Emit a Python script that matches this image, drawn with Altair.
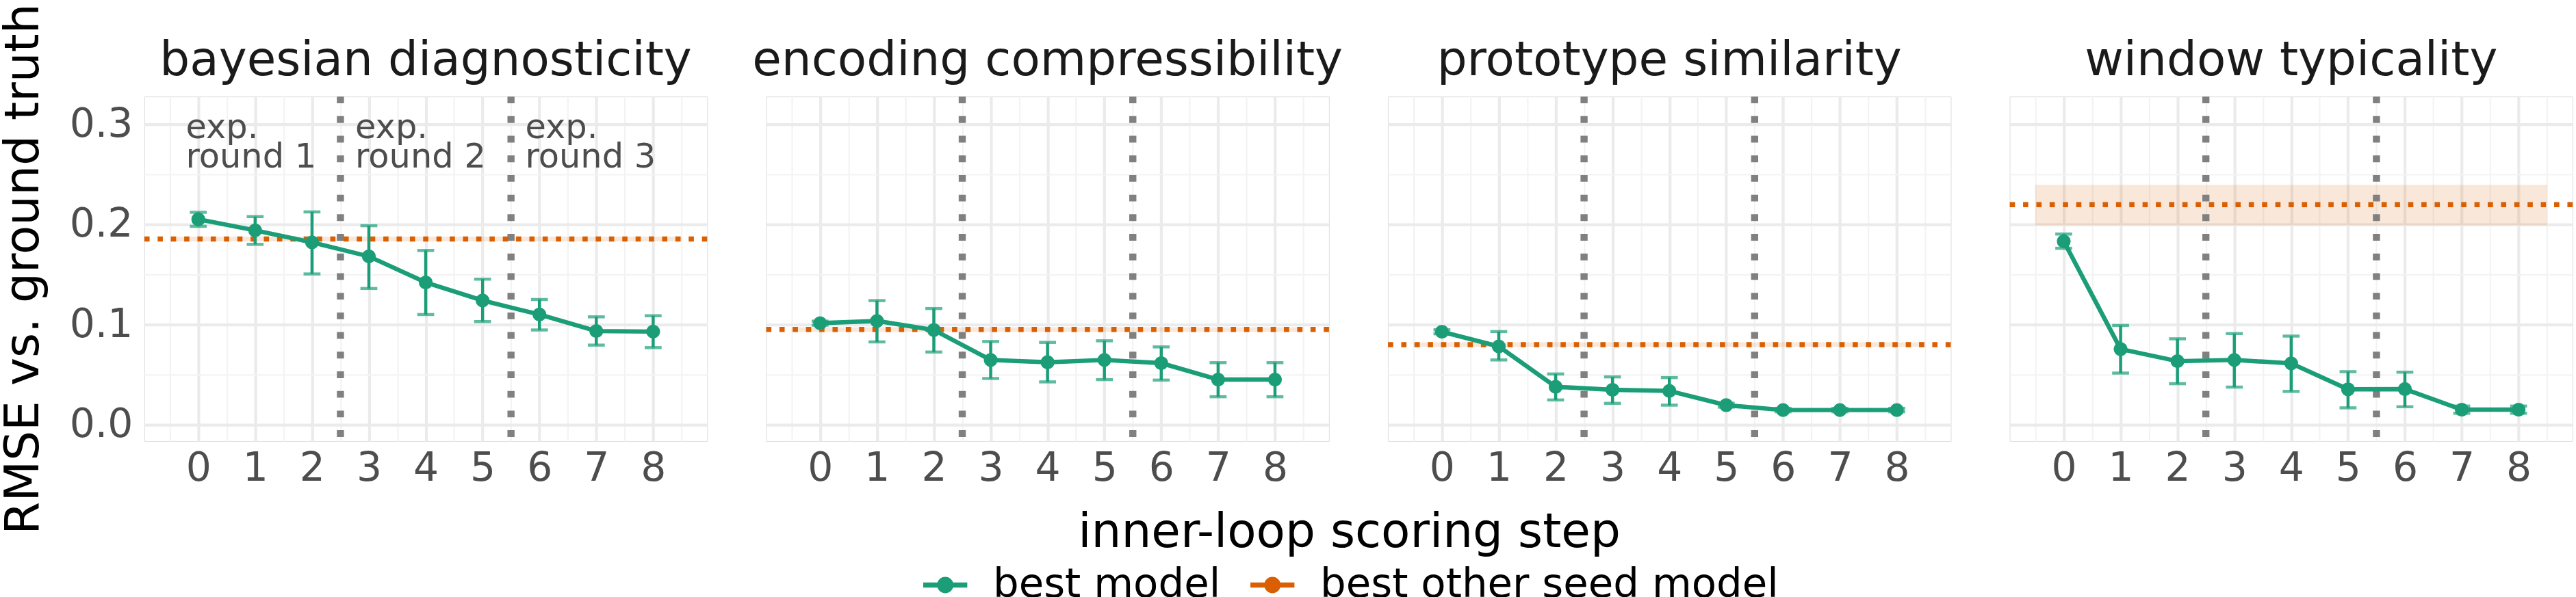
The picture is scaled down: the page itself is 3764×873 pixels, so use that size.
import altair as alt
import pandas as pd

# ---------------- data ----------------
metrics = ["bayesian diagnosticity", "encoding compressibility",
           "prototype similarity", "window typicality"]
steps = [0, 1, 2, 3, 4, 5, 6, 7, 8]

bd_mean = [0.205, 0.194, 0.182, 0.168, 0.142, 0.124, 0.110, 0.0935, 0.093]
bd_lo = [0.198, 0.180, 0.1505, 0.136, 0.110, 0.103, 0.0946, 0.0795, 0.077]
bd_hi = [0.212, 0.2077, 0.2124, 0.1986, 0.1739, 0.1453, 0.125, 0.1077, 0.1088]

ec_mean = [0.1014, 0.1036, 0.0946, 0.0647, 0.0624, 0.0647, 0.0615, 0.0451, 0.0451]
ec_lo = [0.0994, 0.0827, 0.0726, 0.0462, 0.0428, 0.0451, 0.0446, 0.028, 0.028]
ec_hi = [0.1034, 0.1239, 0.116, 0.0831, 0.0822, 0.0838, 0.0777, 0.062, 0.062]

ps_mean = [0.0928, 0.0782, 0.0379, 0.0349, 0.0338, 0.0196, 0.0147, 0.0147, 0.0147]
ps_lo = [0.0908, 0.0647, 0.0248, 0.0214, 0.0196, 0.0176, 0.0130, 0.0130, 0.0130]
ps_hi = [0.0948, 0.093, 0.0507, 0.0478, 0.0471, 0.0216, 0.0164, 0.0164, 0.0164]

wt_mean = [0.1831, 0.0755, 0.0635, 0.0647, 0.0613, 0.0354, 0.0356, 0.0151, 0.0151]
wt_lo = [0.1761, 0.0516, 0.041, 0.0376, 0.0333, 0.0169, 0.018, 0.0115, 0.0115]
wt_hi = [0.1903, 0.0991, 0.0858, 0.091, 0.0885, 0.053, 0.0525, 0.0187, 0.0187]

other_val = [0.1854, 0.0951, 0.0800, 0.2196]
other_lo = [0.1830, 0.0928, 0.0777, 0.1990]
other_hi = [0.1878, 0.0974, 0.0823, 0.2395]
band_x = [-0.5, 8.5]

round_bounds = [2.5, 5.5]
round_labels = ["exp.\nround 1", "exp.\nround 2", "exp.\nround 3"]
round_label_x = [-0.22, 2.76, 5.75]
round_label_y = 0.286

series_names = ["best model", "best other seed model"]
GREEN = "#1b9e77"
ORANGE = "#d95f02"

means = [bd_mean, ec_mean, ps_mean, wt_mean]
los = [bd_lo, ec_lo, ps_lo, wt_lo]
his = [bd_hi, ec_hi, ps_hi, wt_hi]

rows = []
for m, mean, lo, hi in zip(metrics, means, los, his):
    for s, v, l, h in zip(steps, mean, lo, hi):
        rows.append(dict(metric=m, kind="model", series=series_names[0],
                         step=s, value=v, lo=l, hi=h))
for m, v, l, h in zip(metrics, other_val, other_lo, other_hi):
    rows.append(dict(metric=m, kind="other", series=series_names[1],
                     value=v, lo=l, hi=h, x1=band_x[0], x2=band_x[1]))
    for b in round_bounds:
        rows.append(dict(metric=m, kind="vline", step=b))
for t, x in zip(round_labels, round_label_x):
    rows.append(dict(metric=metrics[0], kind="label", step=x,
                     value=round_label_y, label=t))
df = pd.DataFrame(rows)

# ---------------- scales / axes ----------------
FONT = "DejaVu Sans"
xscale = alt.Scale(domain=[-0.95, 8.95], nice=False, zero=False)
yscale = alt.Scale(domain=[-0.0162, 0.3275], nice=False, zero=False)

x_major = "abs(datum.value - round(datum.value)) < 0.001"
y_major = "abs(datum.value*10 - round(datum.value*10)) < 0.001"

xaxis = alt.Axis(
    title=None,
    values=[v / 2 for v in range(-1, 18)],
    labelExpr=f"{x_major} ? format(datum.value, 'd') : ''",
    labelOverlap=False, labelFontSize=59, labelColor="#4d4d4d",
    labelPadding=5, labelFont=FONT,
    grid=True,
    gridColor=alt.condition(x_major, alt.value("#ebebeb"), alt.value("#f3f3f3")),
    gridWidth=alt.condition(x_major, alt.value(4.3), alt.value(2.2)),
    ticks=False, domain=False,
)
yaxis = alt.Axis(
    title="RMSE vs. ground truth",
    values=[0, 0.05, 0.1, 0.15, 0.2, 0.25, 0.3],
    labelExpr=f"{y_major} ? format(datum.value, '.1f') : ''",
    labelOverlap=False, labelFontSize=59, labelColor="#4d4d4d",
    labelPadding=12, labelFont=FONT,
    titleFontSize=70, titleColor="black", titleFontWeight="normal",
    titleFont=FONT, titlePadding=31,
    grid=True,
    gridColor=alt.condition(y_major, alt.value("#ebebeb"), alt.value("#f3f3f3")),
    gridWidth=alt.condition(y_major, alt.value(4.3), alt.value(2.2)),
    ticks=False, domain=False,
)


def X(field):
    return alt.X(field, type="quantitative", scale=xscale, axis=xaxis)


def Y(field):
    return alt.Y(field, type="quantitative", scale=yscale, axis=yaxis)


sym_path = ("M-1,0L1,0"
            "M0.12,0A0.12,0.12,0,1,1,-0.12,0A0.12,0.12,0,1,1,0.12,0"
            "M0.252,0A0.252,0.252,0,1,1,-0.252,0A0.252,0.252,0,1,1,0.252,0")

legend = alt.Legend(
    title="inner-loop scoring step", orient="none",
    legendX=1146, legendY=611, direction="horizontal",
    titleOrient="top", titleAnchor="middle", titleFontSize=70,
    titleFontWeight="normal", titleColor="black", titleFont=FONT,
    titlePadding=4, titleLimit=3000,
    labelFontSize=60, labelColor="black", labelFont=FONT, labelLimit=3000,
    labelOffset=34, columnPadding=28,
    symbolType=sym_path, symbolSize=4225, symbolStrokeWidth=7.7,
    symbolOpacity=1, padding=0,
)

color = alt.Color("series:N",
                  scale=alt.Scale(domain=series_names, range=[GREEN, ORANGE]),
                  legend=legend)

band = alt.Chart().mark_rect(color=ORANGE, opacity=0.15).encode(
    x=X("x1"), x2="x2", y=Y("lo"), y2="hi"
).transform_filter(alt.datum.kind == "other")

vlines = alt.Chart().mark_rule(
    color="#808080", strokeWidth=10.5, strokeDash=[10, 19]
).encode(x=X("step")).transform_filter(alt.datum.kind == "vline")

hline = alt.Chart().mark_rule(
    color=ORANGE, strokeWidth=7.5, strokeDash=[7.7, 11.9]
).encode(y=Y("value")).transform_filter(alt.datum.kind == "other")

errbars = alt.Chart().mark_errorbar(
    ticks=True, size=25, thickness=4.5, color=GREEN
).encode(x=X("step"), y=Y("lo"), y2="hi").transform_filter(
    alt.datum.kind == "model")

line = alt.Chart().mark_line(strokeWidth=6.5).encode(
    x=X("step"), y=Y("value"), color=color
).transform_filter(alt.datum.kind == "model")

pts = alt.Chart().mark_circle(size=420, color=GREEN, opacity=1).encode(
    x=X("step"), y=Y("value")
).transform_filter(alt.datum.kind == "model")

txt = alt.Chart().mark_text(
    align="left", baseline="alphabetic", fontSize=50, lineHeight=43.5,
    color="#4d4d4d", font=FONT, lineBreak="\n"
).encode(x=X("step"), y=Y("value"), text="label:N").transform_filter(
    alt.datum.kind == "label")

layered = alt.layer(band, vlines, hline, errbars, line, pts, txt,
                    data=df).properties(width=831, height=509)

chart = layered.facet(
    column=alt.Column("metric:N", sort=metrics,
                      header=alt.Header(title=None, labelFontSize=70,
                                        labelColor="#1a1a1a", labelFont=FONT,
                                        labelPadding=10)),
    spacing=77,
).properties(
    padding=0, background="white"
).configure_view(stroke=None).configure(font=FONT)

chart.save("out.html", embed_options={"renderer": "svg", "actions": False})
